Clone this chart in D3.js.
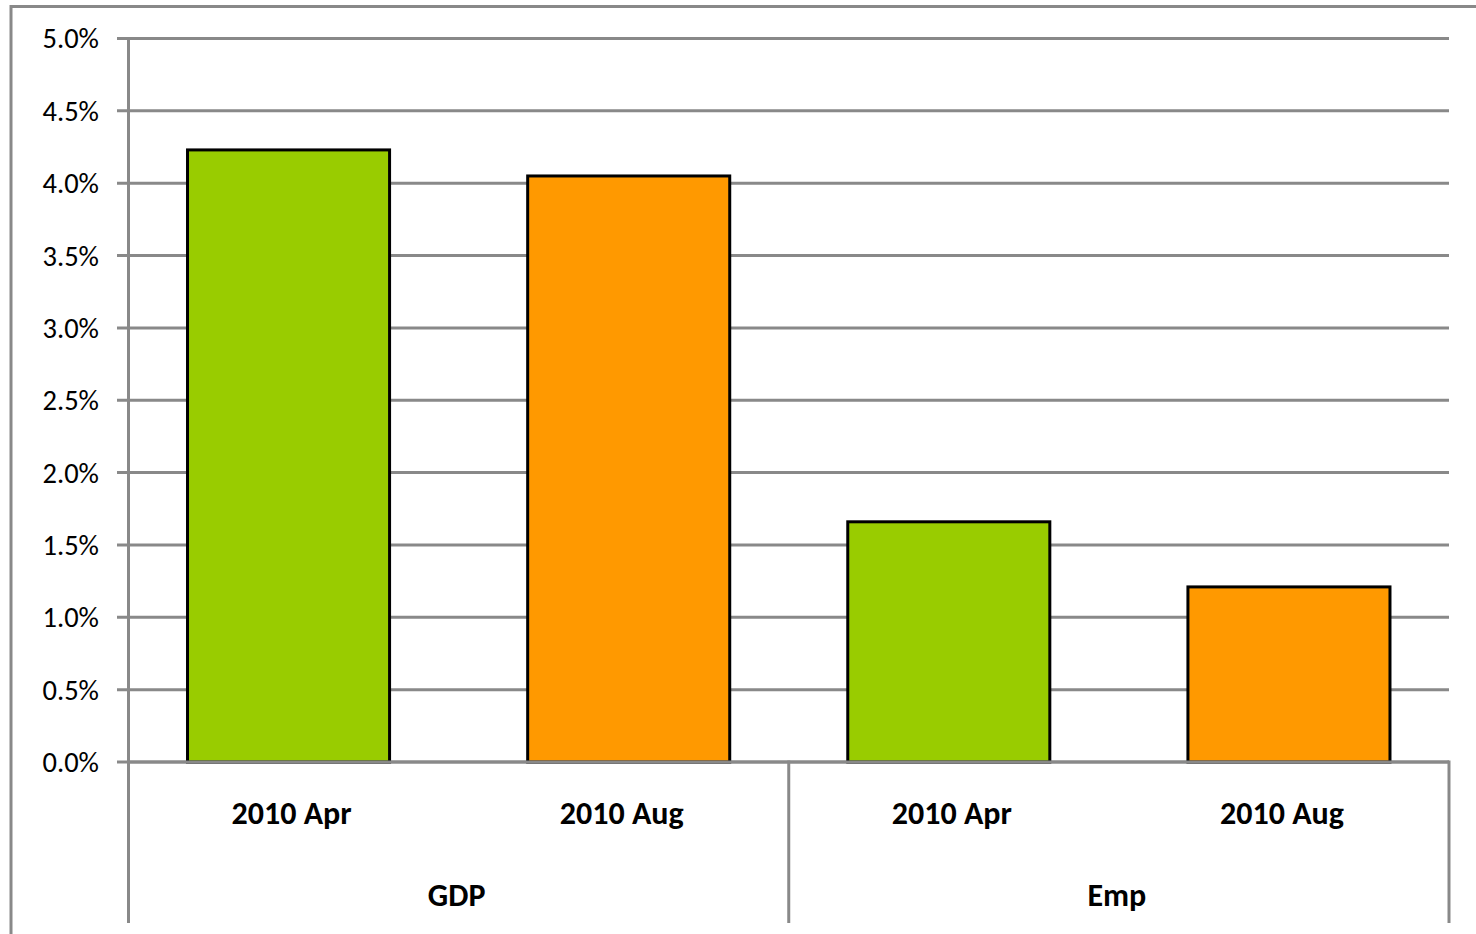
<!DOCTYPE html>
<html>
<head>
<meta charset="utf-8">
<script src="https://cdn.jsdelivr.net/npm/d3@7/dist/d3.min.js"></script>
<style>
html,body{margin:0;padding:0;background:#fff;}
svg{display:block;}
text{font-family:Carlito, Lato, "Open Sans", sans-serif;}
</style>
</head>
<body>
<svg id="chart" width="1476" height="934"></svg>
<script>
const groups = ["GDP", "Emp"];
const series = ["2010 Apr", "2010 Aug"];
const values = {
  "GDP": [4.23, 4.05],
  "Emp": [1.66, 1.21]
};
const seriesColors = ["#99CC00", "#FF9900"];
const yTicks = [0, 0.5, 1.0, 1.5, 2.0, 2.5, 3.0, 3.5, 4.0, 4.5, 5.0];

(function () {
const svg = d3.select("#chart");
const grid = "#898989";
const plotLeft = 128.5, plotRight = 1449, plotTop = 38.5, plotBottom = 762, axisBottom = 923;

// outer chart border
svg.append("path")
  .attr("d", `M11,934 L11,6.5 L1476,6.5`)
  .attr("fill", "none").attr("stroke", grid).attr("stroke-width", 3);

const y = d3.scaleLinear().domain([0, 5]).range([plotBottom, plotTop]);
const x0 = d3.scaleBand().domain(groups).range([plotLeft, plotRight]).padding(0);
const x1 = d3.scaleBand().domain(series).range([0, x0.bandwidth()])
  .paddingInner(0.406).paddingOuter(0.1735);
const xLab = d3.scaleBand().domain(series).range([0, x0.bandwidth()]).padding(0);

// gridlines + tick marks
svg.append("g").selectAll("line").data(yTicks).join("line")
  .attr("x1", 117).attr("x2", plotRight)
  .attr("y1", d => y(d)).attr("y2", d => y(d))
  .attr("stroke", grid).attr("stroke-width", 3);

// y labels
svg.append("g").selectAll("text").data(yTicks).join("text")
  .attr("x", 99).attr("y", d => y(d))
  .attr("dy", "0.35em")
  .attr("text-anchor", "end")
  .attr("font-size", 28.5)
  .attr("fill", "#000")
  .text(d => d.toFixed(1) + "%");

// bars
const flat = [];
groups.forEach(g => series.forEach((s, i) => flat.push({g, s, i, v: values[g][i]})));
svg.append("g").selectAll("rect").data(flat).join("rect")
  .attr("x", d => x0(d.g) + x1(d.s))
  .attr("width", x1.bandwidth())
  .attr("y", d => y(d.v))
  .attr("height", d => y(0) - y(d.v))
  .attr("fill", d => seriesColors[d.i])
  .attr("stroke", "#000").attr("stroke-width", 3);

// baseline redraw
svg.append("line").attr("x1", plotLeft).attr("x2", plotRight)
  .attr("y1", y(0)).attr("y2", y(0))
  .attr("stroke", grid).attr("stroke-width", 3);

// vertical axis and category separators
const seps = [plotLeft, x0("Emp"), plotRight];
svg.append("g").selectAll("line").data(seps).join("line")
  .attr("x1", d => d).attr("x2", d => d)
  .attr("y1", (d, i) => i === 0 ? plotTop - 1.5 : plotBottom - 1.5)
  .attr("y2", axisBottom)
  .attr("stroke", grid).attr("stroke-width", 3);

// category labels
svg.append("g").selectAll("text").data(flat).join("text")
  .attr("x", d => x0(d.g) + xLab(d.s) + xLab.bandwidth() / 2 - 2)
  .attr("y", 824)
  .attr("text-anchor", "middle")
  .attr("font-size", 32)
  .attr("font-weight", "bold")
  .text(d => d.s);

svg.append("g").selectAll("text").data(groups).join("text")
  .attr("x", d => x0(d) + x0.bandwidth() / 2 - 2)
  .attr("y", 906)
  .attr("text-anchor", "middle")
  .attr("font-size", 32)
  .attr("font-weight", "bold")
  .text(d => d);
})();
</script>
</body>
</html>
